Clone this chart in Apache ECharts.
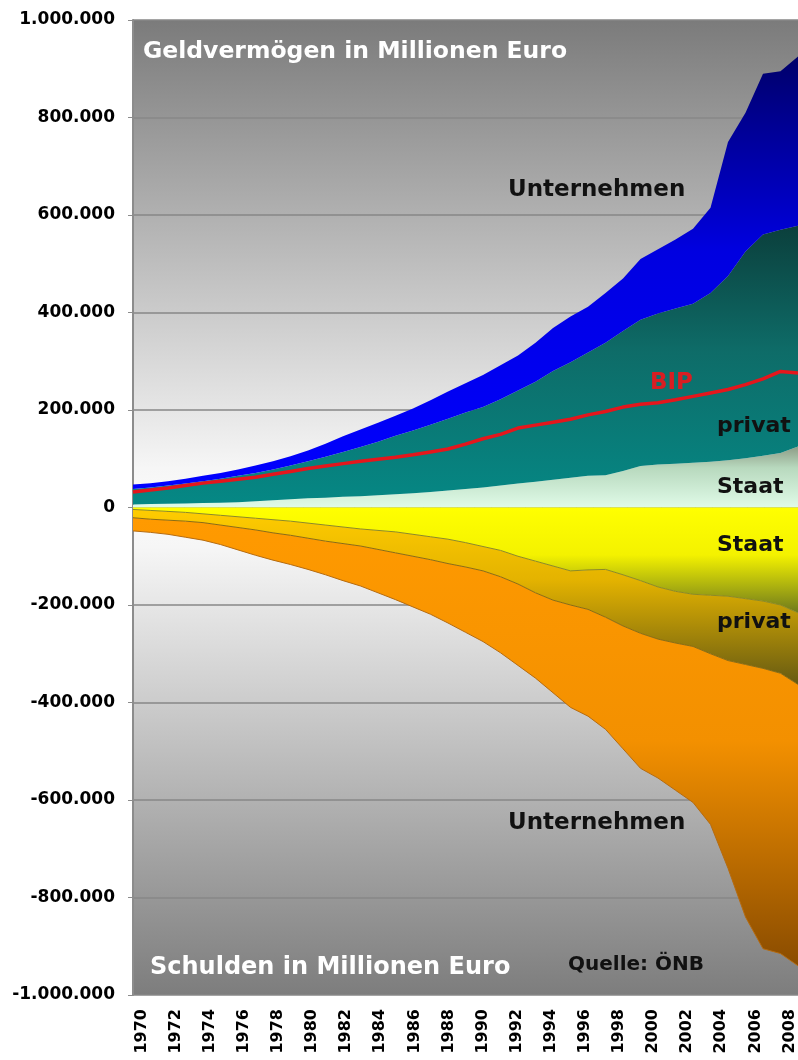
<!DOCTYPE html>
<html>
<head>
<meta charset="utf-8">
<title>Geldvermögen und Schulden</title>
<script src="https://cdn.jsdelivr.net/npm/echarts@6/dist/echarts.min.js"></script>
<style>
  html, body { margin: 0; padding: 0; background: #fff; }
  #chart { width: 798px; height: 1060px; }
</style>
</head>
<body>
<div id="chart"></div>
<script>
// Jahre (Kategorien)
const years = ['1970','1971','1972','1973','1974','1975','1976','1977','1978','1979',
               '1980','1981','1982','1983','1984','1985','1986','1987','1988','1989',
               '1990','1991','1992','1993','1994','1995','1996','1997','1998','1999',
               '2000','2001','2002','2003','2004','2005','2006','2007','2008'];

// Geldvermögen (Mio. Euro), je Sektor
const staatVermoegen = [6000,7000,7500,8000,9000,10000,11000,13000,15000,17000,
                        19000,20000,22000,23000,25000,27000,29000,32000,35000,38000,
                        41000,45000,49000,53000,57000,61000,65000,66000,75000,85000,
                        88000,90000,92000,94000,97000,101000,106000,112000,125000];
const privatVermoegen = [32000,34000,37500,41000,45000,49000,54000,58000,63000,69000,
                         76000,84000,92000,101000,110000,120000,129000,138000,147000,157000,
                         165000,177000,191000,205000,223000,237000,253000,272000,287000,300000,
                         310000,318000,326000,346000,378000,424000,454000,458000,453000];
const unternehmenVermoegen = [9000,9000,9000,10000,11000,12000,13000,15000,17000,19000,
                              22000,27000,32000,36000,39000,41000,45000,50000,56000,60000,
                              66000,70000,72000,80000,88000,94000,94000,102000,108000,125000,
                              132000,142000,154000,175000,275000,285000,330000,325000,347000];

// Schulden (Mio. Euro), je Sektor
const staatSchulden = [-4000,-6000,-8000,-10000,-13000,-16000,-19000,-22000,-25000,-28000,
                       -32000,-36000,-40000,-44000,-47000,-50000,-55000,-60000,-65000,-72000,
                       -80000,-88000,-100000,-110000,-120000,-130000,-128000,-127000,-138000,-150000,
                       -163000,-172000,-178000,-180000,-182000,-187000,-192000,-200000,-216000];
const privatSchulden = [-17000,-18000,-18000,-18000,-18000,-20000,-22000,-24000,-27000,-29000,
                        -31000,-33000,-34000,-35000,-39000,-43000,-45000,-47000,-50000,-50000,
                        -50000,-54000,-57000,-65000,-70000,-70000,-81000,-98000,-105000,-108000,
                        -107000,-106000,-107000,-120000,-132000,-135000,-138000,-140000,-147000];
const unternehmenSchulden = [-27000,-27000,-29000,-33000,-36000,-40000,-46000,-52000,-56000,-60000,
                             -64000,-69000,-76000,-82000,-89000,-96000,-104000,-112000,-122000,-134000,
                             -145000,-156000,-167000,-175000,-190000,-210000,-219000,-230000,-252000,-277000,
                             -285000,-302000,-320000,-350000,-426000,-518000,-575000,-575000,-577000];

// Bruttoinlandsprodukt (Mio. Euro)
const bip = [32000,36000,40000,45000,50000,54000,58000,62000,68000,74000,
             80000,85000,90000,95000,99000,103000,108000,114000,120000,130000,
             141000,150000,163000,169000,175000,181000,190000,197000,206000,212000,
             215000,221000,228000,235000,242000,252000,264000,279000,276000];

// Achsenbereich
const yMin = -1000000, yMax = 1000000, yStep = 200000;

// Zeichenfläche (Pixel)
const PLOT = { left: 133, top: 20, width: 665, height: 975 };

const FONT = '"DejaVu Sans", "Liberation Sans", Arial, sans-serif';
const LG = echarts.graphic.LinearGradient;

function grad(stops) {
  return new LG(0, 0, 0, 1, stops.map(function (s) { return { offset: s[0], color: s[1] }; }));
}

function dotted(v) {
  const s = String(Math.abs(v)).replace(/\B(?=(\d{3})+(?!\d))/g, '.');
  return v < 0 ? '-' + s : s;
}

function area(name, data, stack, fill, line) {
  return {
    name: name,
    type: 'line',
    xAxisIndex: 0,
    stack: stack,
    data: data,
    symbol: 'none',
    silent: true,
    lineStyle: line ? { width: 1, color: line } : { width: 0 },
    areaStyle: { color: fill, opacity: 1 },
    emphasis: { disabled: true }
  };
}

function label(text, x, y, size, color) {
  return {
    type: 'text', x: x, y: y, z: 100, silent: true,
    style: {
      text: text, fill: color, font: 'bold ' + size + 'px ' + FONT,
      align: 'left', verticalAlign: 'middle', textAlign: 'left', textVerticalAlign: 'middle'
    }
  };
}

const chart = echarts.init(document.getElementById('chart'), null, { renderer: 'canvas' });

const option = {
  animation: false,
  backgroundColor: '#ffffff',
  grid: {
    left: PLOT.left, right: 798 - PLOT.left - PLOT.width, top: PLOT.top, bottom: 1060 - PLOT.top - PLOT.height,
    show: false,
    outerBoundsMode: 'none'
  },
  xAxis: [
    { // Datenachse: Flächen von Rand zu Rand
      type: 'category', data: years, boundaryGap: false, show: false,
      axisLine: { onZero: false }
    },
    { // Nulllinie mit Jahresstrichen
      type: 'category', data: years, boundaryGap: true, position: 'bottom',
      axisLine: { show: true, onZero: true, onZeroAxisIndex: 0, lineStyle: { color: '#8e8e6a', width: 1 } },
      axisTick: { show: true, interval: 0, length: 5, lineStyle: { color: '#6e6e50', width: 1 } },
      axisLabel: { show: false }, splitLine: { show: false }
    },
    { // Jahresbeschriftung unten
      type: 'category', data: years, boundaryGap: true, position: 'bottom',
      axisLine: { show: false, onZero: false }, axisTick: { show: false },
      splitLine: { show: false },
      axisLabel: {
        show: true, interval: 1, rotate: 90, margin: 14,
        color: '#000', fontFamily: FONT, fontWeight: 'bold', fontSize: 16
      }
    }
  ],
  yAxis: {
    type: 'value', min: yMin, max: yMax, interval: yStep,
    axisLine: { show: true, lineStyle: { color: '#8c8c8c', width: 2 } },
    axisTick: { show: true, length: 5, lineStyle: { color: '#8c8c8c', width: 1 } },
    splitLine: { show: true, lineStyle: { color: '#878787', width: 1.5 } },
    axisLabel: {
      margin: 18, color: '#000', fontFamily: FONT, fontWeight: 'bold', fontSize: 17,
      formatter: dotted
    }
  },
  series: [
    area('Staat', staatVermoegen, 'vermoegen',
      grad([[0, '#8d9c86'], [0.35, '#b8d9be'], [1, '#e0fbe8']])),
    area('privat', privatVermoegen, 'vermoegen',
      grad([[0, '#0b3f3c'], [0.45, '#0e6c68'], [1, '#058885']])),
    area('Unternehmen', unternehmenVermoegen, 'vermoegen',
      grad([[0, '#00006a'], [0.45, '#0000e0'], [1, '#0000ff']])),
    area('Staat', staatSchulden, 'schulden',
      grad([[0, '#ffff00'], [0.45, '#f4f200'], [1, '#6f7a1c']]), '#8c8a24'),
    area('privat', privatSchulden, 'schulden',
      grad([[0, '#ffcc00'], [0.4, '#e4b300'], [1, '#665a12']]), '#8a6c12'),
    area('Unternehmen', unternehmenSchulden, 'schulden',
      grad([[0, '#ff9a00'], [0.5, '#f39000'], [1, '#8a4c00']]), '#b56b10'),
    {
      name: 'BIP', type: 'line', xAxisIndex: 0, data: bip,
      symbol: 'none', silent: true, z: 5,
      lineStyle: { color: '#e4161c', width: 3.5 },
      emphasis: { disabled: true }
    }
  ],
  graphic: [
    { // Hintergrund der Zeichenfläche: grau – weiß – grau
      type: 'rect', z: -10, silent: true,
      shape: { x: PLOT.left, y: PLOT.top, width: PLOT.width, height: PLOT.height },
      style: { fill: grad([[0, '#7b7b7b'], [0.46, '#f6f6f6'], [0.5, '#fbfbfb'], [0.54, '#f6f6f6'], [1, '#7d7d7d']]) }
    },
    label('Geldvermögen in Millionen Euro', 143, 52, 23.5, '#ffffff'),
    label('Unternehmen', 508, 190, 23, '#111111'),
    label('BIP', 650, 383, 23, '#d81e22'),
    label('privat', 717, 426, 22, '#111111'),
    label('Staat', 717, 487, 22, '#111111'),
    label('Staat', 717, 545, 22, '#111111'),
    label('privat', 717, 622, 22, '#111111'),
    label('Unternehmen', 508, 823, 23, '#111111'),
    label('Schulden in Millionen Euro', 150, 968, 24, '#ffffff'),
    label('Quelle: ÖNB', 568, 965, 20, '#111111')
  ]
};

chart.setOption(option);
</script>
</body>
</html>
